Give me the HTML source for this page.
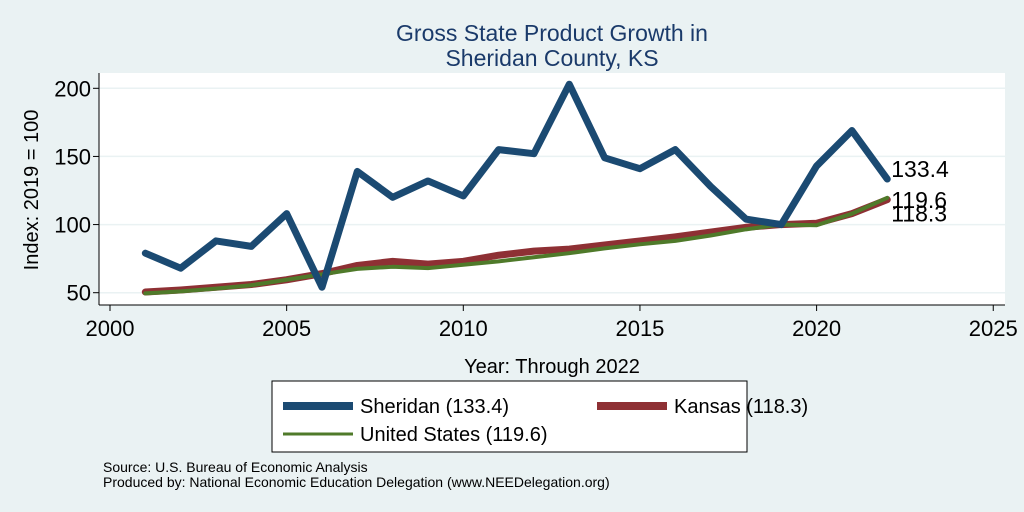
<!DOCTYPE html>
<html><head><meta charset="utf-8"><style>
body{margin:0;background:#eaf2f3;font-family:"Liberation Sans",sans-serif}
svg{display:block}
text{font-family:"Liberation Sans",sans-serif}
</style></head><body>
<svg id="chart" width="1024" height="512" xmlns="http://www.w3.org/2000/svg">
<rect width="1024" height="512" fill="#eaf2f3"/>
<text x="552" y="41" font-size="23" fill="#1a3a6a" text-anchor="middle">Gross State Product Growth in</text>
<text x="552" y="66" font-size="23" fill="#1a3a6a" text-anchor="middle">Sheridan County, KS</text>
<rect x="99" y="73" width="906" height="232" fill="#fff"/>
<g id="grid"></g><g id="axes"></g><g id="series"></g>
<text transform="translate(38,190) rotate(-90)" font-size="20" text-anchor="middle">Index: 2019 = 100</text>
<text x="552" y="373" font-size="20" text-anchor="middle">Year: Through 2022</text>
<g>
<rect x="272" y="381" width="475" height="71" fill="#fff" stroke="#000" stroke-width="1"/>
<line x1="283" y1="406" x2="353" y2="406" stroke="#1b4a72" stroke-width="8"/>
<text x="360" y="413" font-size="20">Sheridan  (133.4)</text>
<line x1="597" y1="406" x2="667" y2="406" stroke="#8e3034" stroke-width="8"/>
<text x="674" y="413" font-size="20">Kansas (118.3)</text>
<line x1="283" y1="434" x2="353" y2="434" stroke="#4f7a2a" stroke-width="3"/>
<text x="360" y="441" font-size="20">United States (119.6)</text>
</g>
<text x="103" y="472" font-size="14">Source: U.S. Bureau of Economic Analysis</text>
<text x="103" y="487" font-size="14">Produced by: National Economic Education Delegation (www.NEEDelegation.org)</text>
</svg>
<script>
const years=[2001,2002,2003,2004,2005,2006,2007,2008,2009,2010,2011,2012,2013,2014,2015,2016,2017,2018,2019,2020,2021,2022];
const sheridan=[79,68,88,84,108,54,139,120,132,121,155,152,203,149,141,155,128,104,100,143,169,133.4];
const kansas=[50.5,52,54,56,59.5,64,70,73,71,73,77.5,80.5,82,85,88,91,94.5,98,100,101,108,118.3];
const us=[49.5,51,53,55.5,59.5,63.5,67.5,69,68,70.5,73,76,79,82.5,85.5,88,92,96.5,100,99.5,108,119.6];
const xTicks=[2000,2005,2010,2015,2020,2025];
const yTicks=[50,100,150,200];
const NS="http://www.w3.org/2000/svg";
const xs=v=>110+(v-2000)*35.33;
const ys=v=>292.7-(v-50)*(204.4/150);
function mk(tag,attrs,parent){const e=document.createElementNS(NS,tag);for(const k in attrs)e.setAttribute(k,attrs[k]);document.getElementById(parent).appendChild(e);return e;}
yTicks.forEach(t=>{
 const g=mk('line',{x1:99,x2:1005,y1:ys(t),y2:ys(t),stroke:'#eaf2f3','stroke-width':1.5},'grid');
 
 
 const tk=mk('line',{x1:93,x2:99,y1:ys(t),y2:ys(t),stroke:'#000'},'axes');
 
 
 const tx=mk('text',{x:91,y:ys(t)+8,'font-size':22,'text-anchor':'end'},'axes');tx.textContent=t;
 
 
});
xTicks.forEach(t=>{
 const tk=mk('line',{x1:xs(t),x2:xs(t),y1:305,y2:311,stroke:'#000'},'axes');
 
 
 const tx=mk('text',{x:xs(t),y:336,'font-size':22,'text-anchor':'middle'},'axes');tx.textContent=t;
 
 
});
const ya=mk('line',{x1:99,x2:99,y1:73,y2:305,stroke:'#000'},'axes');


const xa=mk('line',{x1:99,x2:1005,y1:305,y2:305,stroke:'#000'},'axes');


function line(vals,color,w,name){
 const p=mk('polyline',{points:vals.map((v,i)=>xs(years[i])+','+ys(v)).join(' '),fill:'none',stroke:color,'stroke-width':w,'stroke-linejoin':'round','stroke-linecap':'round'},'series');
 
 
}
line(kansas,'#8e3034',7,'kansas-line');
line(us,'#4f7a2a',4,'us-line');
line(sheridan,'#1b4a72',7,'sheridan-line');
const last=years.length-1;
[[sheridan,'sheridan-end-label',-10],[us,'us-end-label',2],[kansas,'kansas-end-label',14]].forEach(([arr,n,off])=>{
 const t=mk('text',{x:xs(years[last])+4,y:ys(arr[last])+8+off,'font-size':23},'series');
 t.textContent=arr[last].toFixed(1);
 
 
});
</script>
</body></html>
